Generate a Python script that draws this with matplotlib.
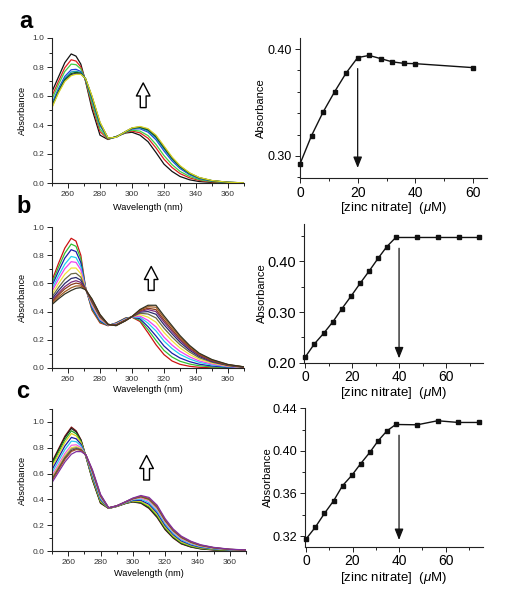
import matplotlib
matplotlib.use("Agg")
import matplotlib.pyplot as plt
from matplotlib.ticker import MultipleLocator, FormatStrFormatter

plt.rcParams['font.family'] = ['Liberation Sans', 'DejaVu Sans']
plt.rcParams['mathtext.fontset'] = 'custom'
plt.rcParams['mathtext.it'] = 'Liberation Sans:italic'
plt.rcParams['mathtext.rm'] = 'Liberation Sans'

# ---------------- data ----------------
wavelength = [250, 254, 258, 262, 265, 268, 271, 275, 280, 285, 290, 296,
              300, 305, 310, 315, 320, 325, 330, 336, 342, 350, 360, 370]

spectra_a = [
    [.630, .730, .830, .890, .875, .820, .700, .510, .330, .300, .320, .345, .350, .330, .285, .210, .130, .080, .045, .022, .010, .004, .001, .000],
    [.600, .700, .795, .850, .841, .801, .705, .534, .354, .303, .319, .348, .358, .346, .309, .242, .164, .107, .065, .035, .018, .0075, .002, .000],
    [.578, .678, .769, .820, .816, .787, .709, .552, .372, .305, .318, .350, .364, .358, .327, .266, .189, .127, .080, .045, .023, .010, .003, .000],
    [.550, .650, .735, .781, .784, .769, .715, .576, .396, .307, .316, .352, .372, .374, .351, .298, .221, .153, .100, .057, .030, .0135, .004, .001],
    [.539, .639, .722, .766, .771, .762, .717, .585, .405, .308, .316, .353, .375, .380, .360, .310, .234, .163, .107, .062, .033, .015, .004, .001],
    [.531, .631, .713, .755, .763, .757, .718, .591, .411, .309, .316, .354, .377, .384, .366, .318, .243, .170, .113, .065, .035, .016, .005, .001],
    [.526, .626, .707, .748, .756, .754, .719, .596, .416, .310, .315, .355, .379, .387, .371, .324, .249, .175, .116, .068, .037, .016, .005, .001],
    [.520, .620, .700, .740, .750, .750, .720, .600, .420, .310, .315, .355, .380, .390, .375, .330, .255, .180, .120, .070, .038, .017, .005, .001],
]
colors_a = ['#111111', '#e02020', '#44d044', '#2040e0', '#1aa0b8', '#0a6a0a', '#1e2a5a', '#d8d820']

spectra_b = [
    [.620, .740, .850, .920, .900, .800, .570, .410, .320, .300, .320, .355, .360, .330, .250, .165, .095, .050, .026, .012, .005, .001, .000, .000],
    [.601, .713, .814, .879, .863, .775, .568, .419, .327, .301, .318, .353, .361, .339, .272, .196, .125, .078, .048, .028, .016, .0075, .003, .001],
    [.583, .685, .779, .839, .826, .749, .567, .428, .333, .302, .316, .351, .361, .349, .293, .227, .156, .105, .071, .045, .027, .014, .0055, .002],
    [.561, .653, .736, .791, .783, .720, .565, .438, .341, .304, .313, .348, .362, .360, .318, .263, .191, .138, .097, .064, .040, .022, .009, .003],
    [.544, .628, .704, .754, .749, .697, .563, .446, .347, .305, .311, .346, .362, .368, .338, .291, .219, .163, .118, .079, .050, .028, .011, .004],
    [.523, .598, .665, .709, .709, .669, .561, .456, .354, .306, .309, .344, .363, .379, .361, .325, .252, .193, .142, .096, .062, .035, .014, .005],
    [.504, .570, .629, .668, .672, .644, .560, .464, .361, .307, .306, .341, .363, .388, .383, .355, .282, .220, .165, .113, .073, .041, .017, .005],
    [.489, .548, .600, .635, .642, .623, .558, .472, .366, .308, .305, .340, .364, .396, .400, .381, .307, .243, .183, .126, .082, .046, .019, .006],
    [.477, .530, .577, .609, .619, .607, .557, .477, .370, .308, .303, .338, .364, .401, .414, .400, .326, .260, .197, .136, .089, .051, .021, .007],
    [.469, .518, .561, .591, .602, .595, .557, .481, .373, .309, .302, .337, .365, .406, .424, .414, .340, .273, .208, .144, .094, .054, .022, .007],
    [.459, .503, .541, .569, .582, .582, .556, .486, .377, .310, .301, .336, .365, .411, .435, .431, .356, .288, .220, .153, .100, .057, .024, .008],
    [.450, .490, .525, .550, .565, .570, .555, .490, .380, .310, .300, .335, .365, .415, .445, .445, .370, .300, .230, .160, .105, .060, .025, .008],
]
colors_b = ['#cc1111', '#33c033', '#1c1ca8', '#20d0f0', '#ee44ee', '#f2e23a',
            '#6a6a48', '#2b2b6b', '#7a2a7a', '#8a3a1a', '#a05a20', '#333322']

spectra_c = [
    [.690, .790, .890, .960, .930, .860, .730, .550, .370, .330, .345, .370, .380, .370, .330, .260, .165, .100, .055, .030, .016, .008, .004, .002],
    [.682, .781, .880, .950, .922, .856, .731, .554, .374, .330, .345, .371, .382, .373, .334, .265, .169, .104, .058, .032, .018, .009, .0045, .0023],
    [.668, .765, .862, .931, .908, .847, .732, .561, .380, .331, .346, .372, .384, .378, .342, .273, .177, .110, .063, .036, .020, .011, .0054, .0028],
    [.652, .747, .842, .910, .892, .838, .734, .569, .387, .331, .346, .374, .387, .384, .350, .283, .185, .117, .069, .041, .024, .013, .0064, .0034],
    [.629, .722, .814, .880, .869, .826, .736, .580, .397, .332, .347, .376, .391, .393, .362, .296, .197, .127, .078, .047, .028, .016, .0078, .0043],
    [.607, .696, .786, .851, .847, .813, .738, .592, .406, .333, .348, .378, .396, .401, .374, .309, .209, .136, .086, .053, .033, .018, .0092, .0051],
    [.583, .669, .756, .819, .823, .800, .740, .604, .417, .333, .348, .380, .400, .410, .387, .324, .222, .147, .095, .060, .037, .021, .0107, .006],
    [.568, .653, .738, .800, .808, .792, .741, .611, .423, .334, .349, .381, .403, .416, .395, .332, .230, .153, .101, .064, .040, .023, .0116, .0066],
    [.560, .644, .728, .790, .800, .787, .742, .615, .427, .334, .349, .382, .404, .419, .399, .337, .234, .157, .104, .066, .042, .024, .0121, .0069],
    [.552, .635, .718, .779, .792, .783, .743, .619, .430, .334, .349, .383, .406, .422, .403, .342, .238, .160, .107, .069, .044, .025, .0126, .0072],
    [.546, .628, .710, .771, .786, .779, .744, .622, .433, .335, .350, .384, .407, .424, .407, .346, .242, .163, .109, .071, .045, .026, .013, .0074],
    [.530, .610, .690, .750, .770, .770, .745, .630, .440, .335, .350, .385, .410, .430, .415, .355, .250, .170, .115, .075, .048, .028, .014, .008],
]
colors_c = ['#7a1010', '#202020', '#22a022', '#e0d020', '#1a1aa0', '#30c8f0',
            '#f060e0', '#e8d840', '#808060', '#404040', '#a05030', '#8030a0']

zinc_a = [0, 4, 8, 12, 16, 20, 24, 28, 32, 36, 40, 60]
abs_a = [0.2925, 0.319, 0.341, 0.360, 0.3776, 0.392, 0.394, 0.391, 0.388, 0.3866, 0.3863, 0.3826]

zinc_bc = [0, 3.97, 7.94, 11.9, 15.7, 19.7, 23.5, 27.4, 31.1, 34.8, 38.6, 47.8, 56.6, 65.5, 74.2]
abs_b = [0.2105, 0.237, 0.258, 0.281, 0.3066, 0.332, 0.357, 0.3816, 0.406, 0.429, 0.447, 0.447, 0.447, 0.447, 0.447]
abs_c = [0.3172, 0.3282, 0.3413, 0.3532, 0.3673, 0.377, 0.388, 0.3985, 0.4097, 0.4188, 0.4248, 0.4245, 0.4283, 0.4267, 0.4267]

# endpoint markers (x, y_start, y_end) for the saturation arrows
endpoint_a = (20, 0.3817, 0.2888)
endpoint_b = (40, 0.4257, 0.2086)
endpoint_c = (40, 0.4147, 0.3163)

# up arrows in spectra (x, y_bottom, y_top)
uparrow_a = (307, 0.52, 0.69)
uparrow_b = (312, 0.55, 0.72)
uparrow_c = (308.5, 0.55, 0.74)

# ---------------- figure ----------------
W, H = 505, 599
fig = plt.figure(figsize=(W / 100, H / 100), dpi=100)


def add_ax(l, t, r, b):
    ax = fig.add_axes([l / W, 1 - b / H, (r - l) / W, (b - t) / H])
    ax.spines['top'].set_visible(False)
    ax.spines['right'].set_visible(False)
    for s in ('left', 'bottom'):
        ax.spines[s].set_linewidth(0.8)
        ax.spines[s].set_color('#222222')
    ax.tick_params(which='both', direction='out', color='#222222', width=0.7)
    ax.tick_params(which='major', length=3.5)
    ax.tick_params(which='minor', length=2)
    return ax


def set_labels(ax, xlabel, ylabel, xoff, yoff, hpx, wpx, fs):
    ax.set_xlabel(xlabel, fontsize=fs)
    ax.set_ylabel(ylabel, fontsize=fs * 0.85 if '[' in xlabel else fs)
    ax.xaxis.set_label_coords(0.5, -xoff / hpx)
    ax.xaxis.label.set_verticalalignment('center')
    ax.yaxis.set_label_coords(-yoff / wpx, 0.5)
    ax.yaxis.label.set_verticalalignment('center')


def spectra_panel(box, spectra, colors, ylim, uparrow, xlab_off):
    l, t, r, b = box
    ax = add_ax(l, t, r, b)
    for spec, col in zip(spectra, colors):
        ax.plot(wavelength, spec, color=col, lw=0.9)
    ax.set_xlim(250, 370)
    ax.set_ylim(*ylim)
    ax.xaxis.set_major_locator(MultipleLocator(20))
    ax.xaxis.set_minor_locator(MultipleLocator(10))
    ax.set_xticks([260, 280, 300, 320, 340, 360])
    ax.yaxis.set_major_locator(MultipleLocator(0.2))
    ax.yaxis.set_minor_locator(MultipleLocator(0.1))
    ax.yaxis.set_major_formatter(FormatStrFormatter('%.1f'))
    ax.tick_params(labelsize=6, pad=2, labelcolor='#333333')
    ax.xaxis.set_minor_locator(MultipleLocator(10))
    set_labels(ax, 'Wavelength (nm)', 'Absorbance', xlab_off, 30, b - t, r - l, 6.6)
    x, y0, y1 = uparrow
    ax.annotate('', xy=(x, y1), xytext=(x, y0),
                arrowprops=dict(arrowstyle='simple,head_length=0.67,head_width=0.7,tail_width=0.3',
                                mutation_scale=14, fc='white', ec='black', lw=1,
                                shrinkA=0, shrinkB=0))
    return ax


def titration_panel(box, xlim, ylim, xs, ys, endpoint, ymajor, yminor, yfmt,
                    ylabsize, xoff, yoff):
    l, t, r, b = box
    ax = add_ax(l, t, r, b)
    ax.plot(xs, ys, color='#111111', lw=1.0, marker='s', ms=3.2,
            mfc='#111111', mec='#111111', clip_on=False, zorder=3)
    ax.set_xlim(*xlim)
    ax.set_ylim(*ylim)
    ax.set_xticks([0, 20, 40, 60])
    ax.xaxis.set_minor_locator(MultipleLocator(10))
    ax.set_yticks(ymajor)
    ax.yaxis.set_minor_locator(MultipleLocator(yminor))
    ax.yaxis.set_major_formatter(FormatStrFormatter(yfmt))
    ax.tick_params(axis='x', labelsize=10, pad=2)
    ax.tick_params(axis='y', labelsize=ylabsize, pad=2)
    ax.set_xlabel(r'[zinc nitrate]  ($\mu$M)', fontsize=9.5)
    ax.set_ylabel('Absorbance', fontsize=8)
    ax.xaxis.set_label_coords(0.5, -xoff / (b - t))
    ax.xaxis.label.set_verticalalignment('center')
    ax.yaxis.set_label_coords(-yoff / (r - l), 0.5)
    ax.yaxis.label.set_verticalalignment('center')
    x, y0, y1 = endpoint
    ax.annotate('', xy=(x, y1), xytext=(x, y0),
                arrowprops=dict(arrowstyle='-|>,head_length=0.55,head_width=0.22',
                                mutation_scale=12, color='#111111', lw=0.9,
                                shrinkA=0, shrinkB=0))
    return ax


# panel a
spectra_panel((52, 38, 244, 183), spectra_a, colors_a, (0, 1.0), uparrow_a, 24)
titration_panel((299.5, 38, 487, 178), (-0.17, 64.85), (0.2794, 0.4103),
                zinc_a, abs_a, endpoint_a, [0.30, 0.40], 0.02, '%.2f', 9, 30, 39)

# panel b
spectra_panel((52, 227, 244, 368), spectra_b, colors_b, (0, 1.0), uparrow_b, 21)
titration_panel((304, 224.3, 483, 362.7), (-0.43, 75.7), (0.20, 0.473),
                zinc_bc, abs_b, endpoint_b, [0.20, 0.30, 0.40], 0.05, '%.2f', 10.5, 30, 42)

# panel c
spectra_panel((52, 409, 246, 551), spectra_c, colors_c, (0, 1.1), uparrow_c, 23)
titration_panel((305, 408.3, 483, 546.7), (-0.43, 76.1), (0.31, 0.44),
                zinc_bc, abs_c, endpoint_c, [0.32, 0.36, 0.40, 0.44], 0.02, '%.2f', 9.2, 31, 37)

# panel letters
for letter, (px, py) in zip(['a', 'b', 'c'], [(26, 21), (24, 207), (23, 392)]):
    fig.text(px / W, 1 - py / H, letter, fontsize=17, fontweight='bold',
             ha='center', va='center')

fig.savefig('out.png', dpi=100)
